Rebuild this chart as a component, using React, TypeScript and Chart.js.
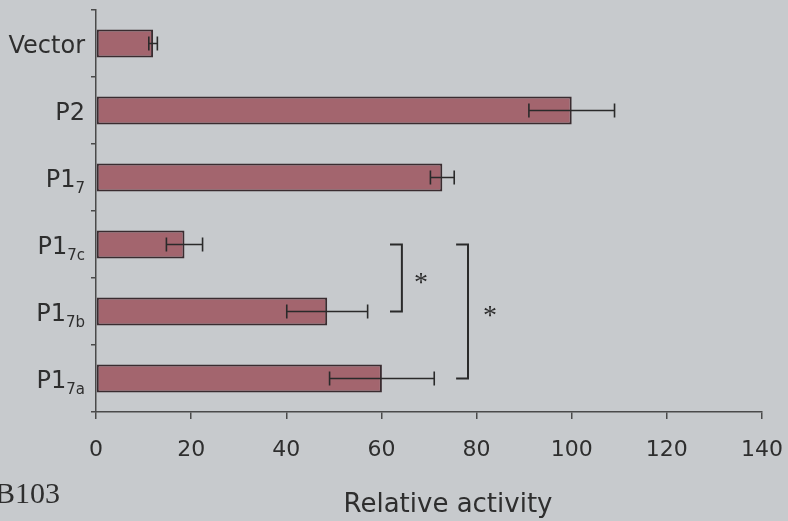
import React, { useEffect, useRef } from 'react';
import { Chart, registerables } from 'chart.js';

Chart.register(...registerables);

// ---- data ----
const categories = ['Vector', 'P2', 'P1', 'P1', 'P1', 'P1'];
const subscripts = ['', '', '7', '7c', '7b', '7a'];
const values = [12, 100, 72.8, 18.6, 48.6, 60.1];
const errors = [0.9, 9, 2.5, 3.8, 8.5, 11];
const xMin = 0;
const xMax = 140;
const xStep = 20;
const xTitle = 'Relative activity';
const cornerLabel = 'B103';
// significance brackets (category index from / to, x in data units)
const bracketFrom = [3, 3];
const bracketTo = [4, 5];
const bracketX = [61.8, 75.7];
const bracketArm = 2.5;
const starX = [68.3, 82.8];
const starText = '*';

const TEXT = '#2e2e2e';
const AXIS = '#4a4a4a';
const SANS = '"DejaVu Sans", sans-serif';
const SERIF = '"Liberation Serif", serif';

const overlayPlugin = {
  id: 'overlay',
  afterDatasetsDraw(chart: any) {
    const ctx = chart.ctx;
    const xs = chart.scales.x;
    const meta = chart.getDatasetMeta(0);
    ctx.save();
    ctx.strokeStyle = '#2a2a2a';
    ctx.lineWidth = 1.6;
    meta.data.forEach((bar: any, i: number) => {
      const y = bar.y;
      const xl = xs.getPixelForValue(values[i] - errors[i]);
      const xr = xs.getPixelForValue(values[i] + errors[i]);
      ctx.beginPath();
      ctx.moveTo(xl, y);
      ctx.lineTo(xr, y);
      ctx.moveTo(xl, y - 7);
      ctx.lineTo(xl, y + 7);
      ctx.moveTo(xr, y - 7);
      ctx.lineTo(xr, y + 7);
      ctx.stroke();
    });
    ctx.restore();
  },
  afterDraw(chart: any) {
    const ctx = chart.ctx;
    const xs = chart.scales.x;
    const ys = chart.scales.y;
    ctx.save();

    // y category labels with subscripts
    ctx.fillStyle = TEXT;
    ctx.textBaseline = 'alphabetic';
    ctx.textAlign = 'left';
    const right = 85;
    categories.forEach((c, i) => {
      const cy = ys.getPixelForValue(i);
      ctx.font = `24px ${SANS}`;
      const wMain = ctx.measureText(c).width;
      ctx.font = `15px ${SANS}`;
      const wSub = subscripts[i] ? ctx.measureText(subscripts[i]).width : 0;
      const x0 = right - wMain - wSub;
      ctx.font = `24px ${SANS}`;
      ctx.fillText(c, x0, cy + 9);
      if (subscripts[i]) {
        ctx.font = `15px ${SANS}`;
        ctx.fillText(subscripts[i], x0 + wMain, cy + 15);
      }
    });

    // significance brackets
    ctx.strokeStyle = '#2a2a2a';
    ctx.lineWidth = 2;
    bracketFrom.forEach((f, k) => {
      const yTop = ys.getPixelForValue(f);
      const yBot = ys.getPixelForValue(bracketTo[k]);
      const xa = xs.getPixelForValue(bracketX[k]);
      const xb = xs.getPixelForValue(bracketX[k] + bracketArm);
      ctx.beginPath();
      ctx.moveTo(xa, yTop);
      ctx.lineTo(xb, yTop);
      ctx.lineTo(xb, yBot);
      ctx.lineTo(xa, yBot);
      ctx.stroke();
      // asterisk
      ctx.font = `28px ${SERIF}`;
      ctx.textAlign = 'center';
      const m = ctx.measureText(starText);
      const midY = (yTop + yBot) / 2;
      const asc = m.actualBoundingBoxAscent || 0;
      const desc = m.actualBoundingBoxDescent || 0;
      ctx.fillStyle = TEXT;
      ctx.fillText(starText, xs.getPixelForValue(starX[k]), midY + (asc - desc) / 2);
    });

    // axis title
    ctx.font = `26px ${SANS}`;
    ctx.textAlign = 'center';
    ctx.fillStyle = TEXT;
    ctx.fillText(xTitle, 448, 512);

    // corner label
    ctx.font = `30px ${SERIF}`;
    ctx.textAlign = 'left';
    ctx.fillText(cornerLabel, -5, 503);

    ctx.restore();
  },
};

export default function App() {
  const ref = useRef<HTMLCanvasElement | null>(null);
  useEffect(() => {
    if (!ref.current) return;
    const chart = new Chart(ref.current, {
      type: 'bar',
      data: {
        labels: categories.map((c, i) => c + subscripts[i]),
        datasets: [
          {
            data: values,
            backgroundColor: '#a3656e',
            borderColor: '#3a2c30',
            borderWidth: 2,
            borderSkipped: false,
            categoryPercentage: 1,
            barPercentage: 0.42,
          },
        ],
      },
      options: {
        animation: false,
        responsive: false,
        indexAxis: 'y',
        layout: { padding: { left: 0, right: 26, top: 10, bottom: 0 } },
        plugins: {
          legend: { display: false },
          tooltip: { enabled: false },
          title: { display: false },
        },
        scales: {
          x: {
            type: 'linear',
            position: 'bottom',
            min: xMin,
            max: xMax,
            ticks: {
              stepSize: xStep,
              color: TEXT,
              font: { family: SANS, size: 22 },
              padding: 18,
              maxRotation: 0,
              autoSkip: false,
            },
            grid: {
              drawOnChartArea: false,
              drawTicks: true,
              tickLength: 7,
              color: AXIS,
              lineWidth: 1.5,
            },
            border: { display: true, color: AXIS, width: 1.5 },
            afterFit: (s: any) => {
              s.height = 109;
              s.paddingRight = 0;
              s.paddingLeft = 0;
            },
          },
          y: {
            type: 'category',
            position: 'left',
            offset: true,
            ticks: { display: false },
            grid: {
              offset: true,
              drawOnChartArea: false,
              drawTicks: true,
              tickLength: 5,
              color: AXIS,
              lineWidth: 1.5,
            },
            border: { display: true, color: AXIS, width: 1.5 },
            afterFit: (s: any) => {
              s.width = 96;
              s.paddingTop = 0;
              s.paddingBottom = 0;
            },
          },
        },
      } as any,
      plugins: [overlayPlugin],
    });
    return () => chart.destroy();
  }, []);

  return (
    <div
      style={{
        position: 'absolute',
        left: 0,
        top: 0,
        width: 788,
        height: 521,
        background: '#c7cacd',
        overflow: 'hidden',
      }}
    >
      <canvas ref={ref} width={788} height={521} style={{ display: 'block', width: 788, height: 521 }} />
    </div>
  );
}
